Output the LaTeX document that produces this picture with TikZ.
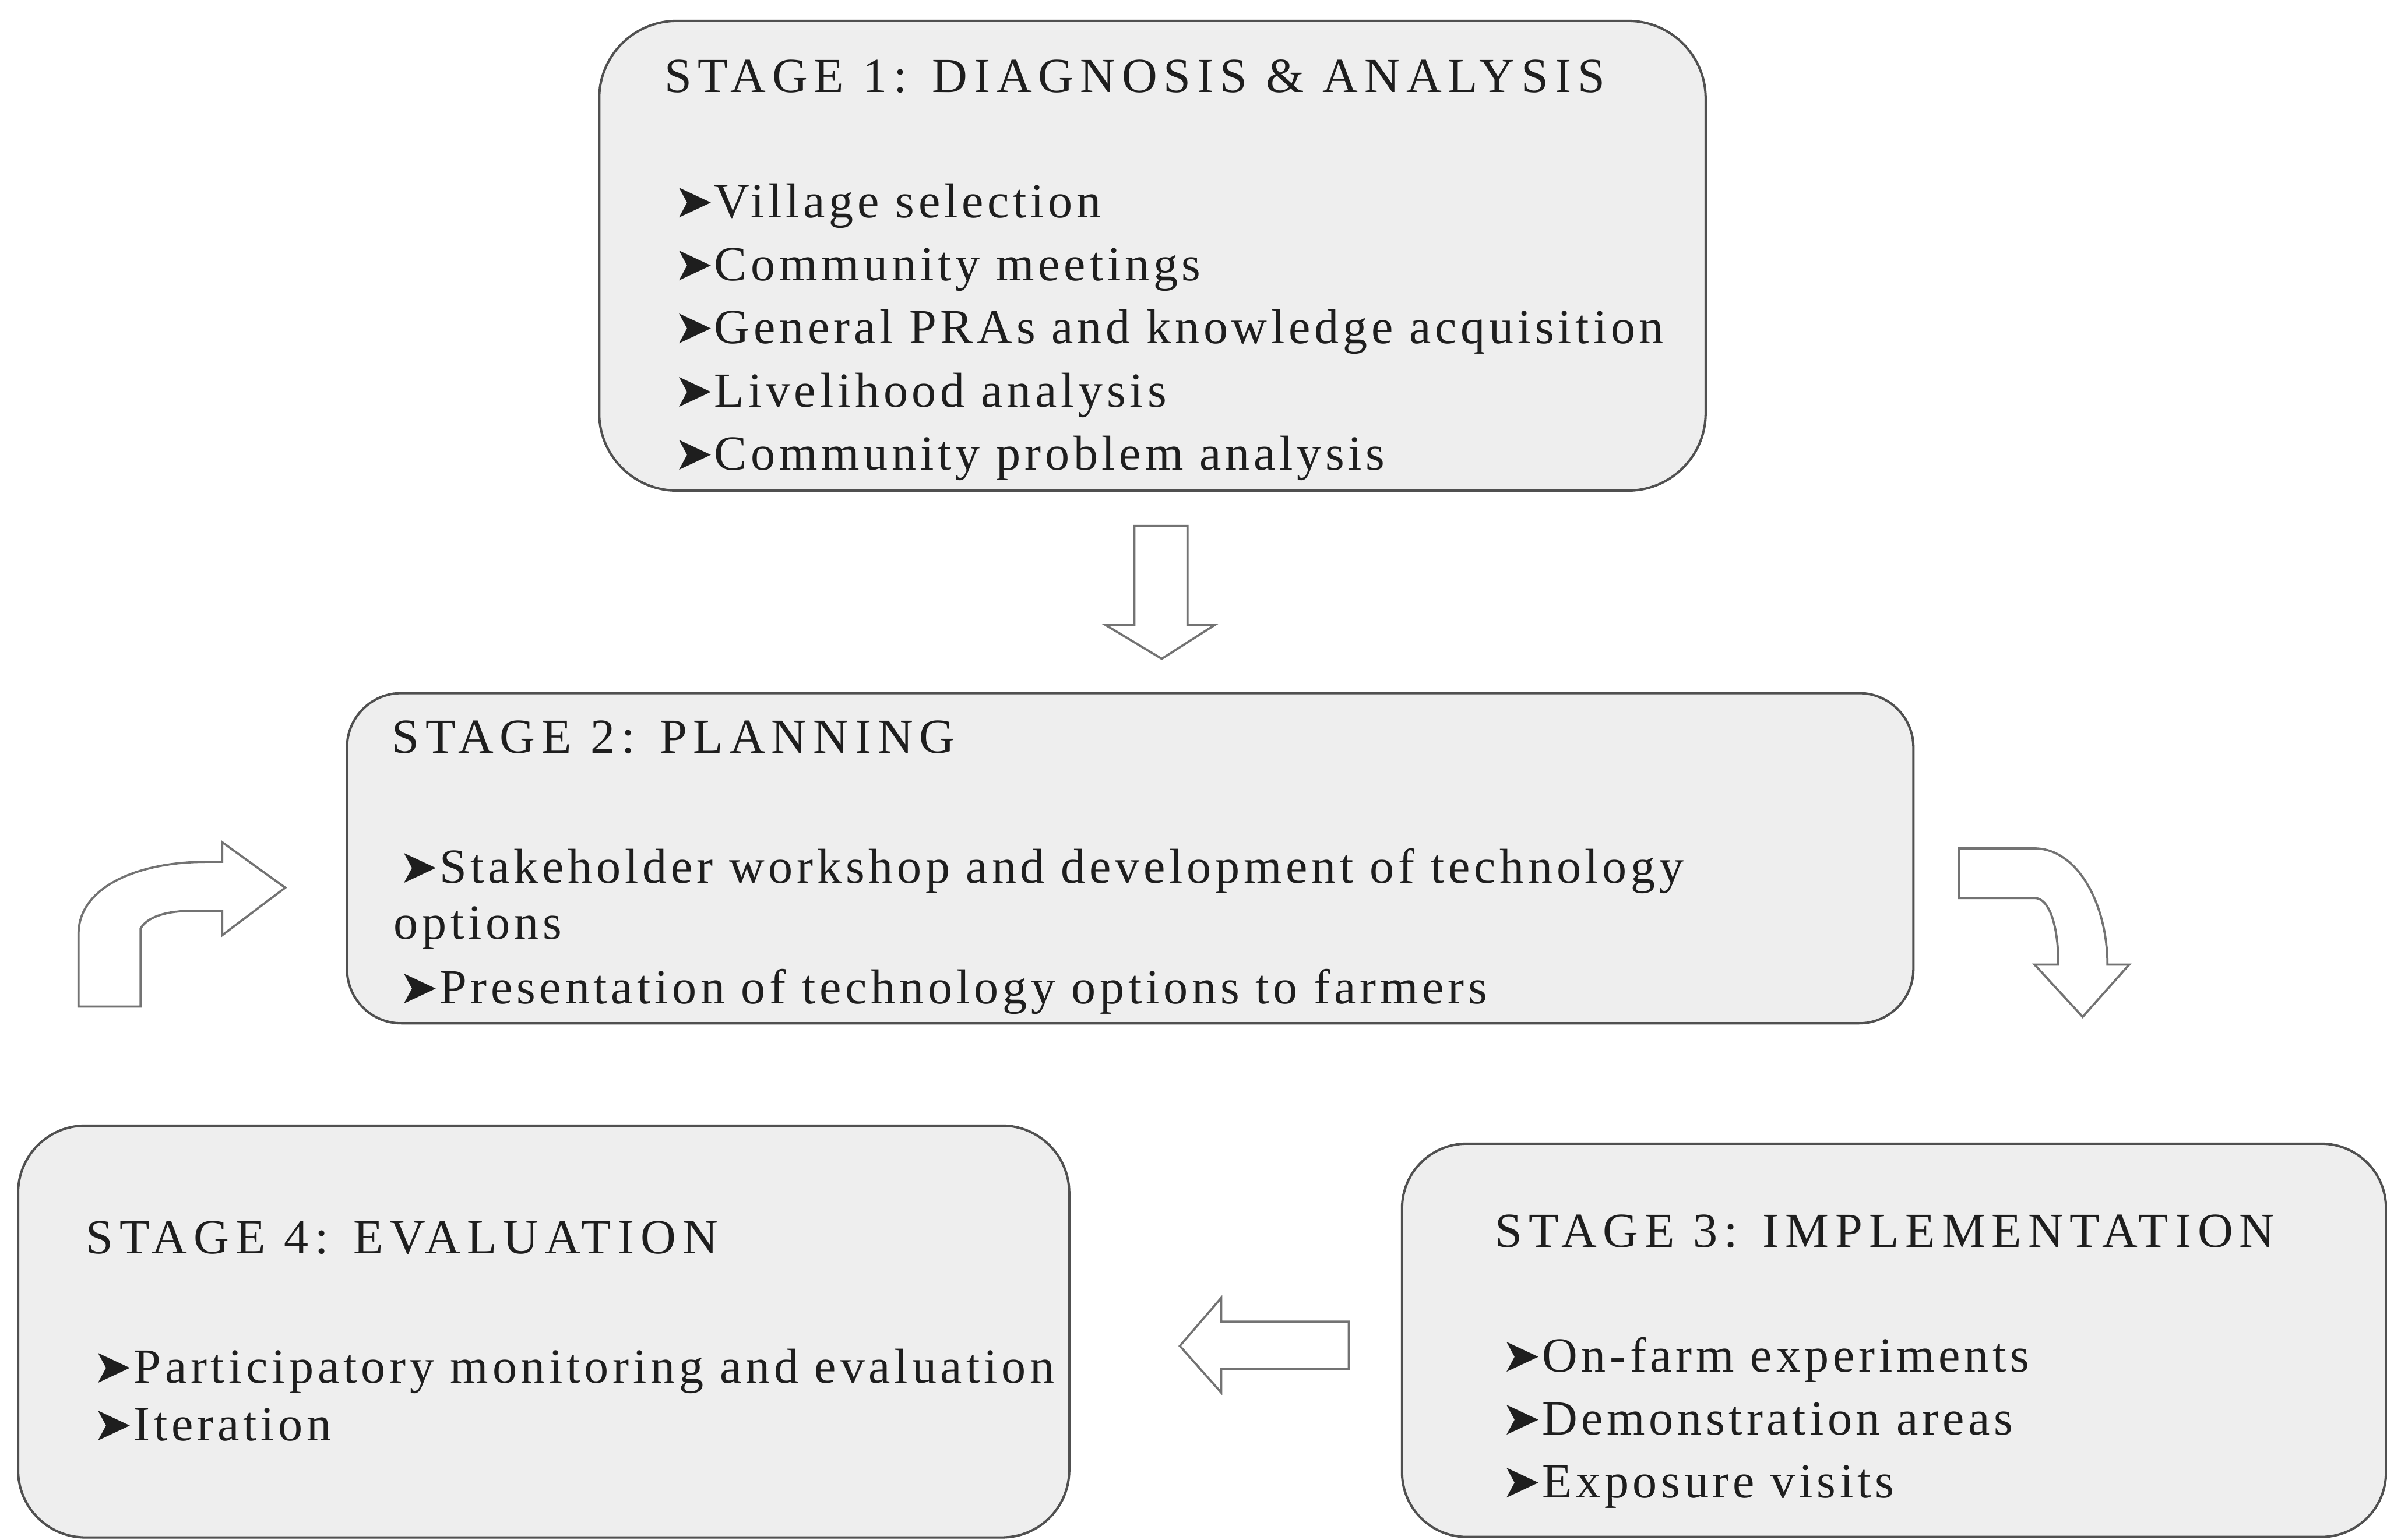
\documentclass[tikz,border=0pt]{standalone}
\usepackage{fontspec}
\setmainfont{Liberation Serif}[LetterSpace=8]
\newfontfamily\headfont{Liberation Serif}[LetterSpace=13]
\newfontfamily\bulletfont{DejaVu Sans}
\definecolor{boxfill}{RGB}{238,238,238}
\definecolor{boxline}{RGB}{80,80,80}
\definecolor{arrowline}{RGB}{115,115,115}
\definecolor{inkgrey}{RGB}{30,30,30}
\newcommand{\arrowbullet}{{\bulletfont\fontsize{26}{30}\selectfont\char"27A4}\hspace{0.02cm}}

\begin{document}
\begin{tikzpicture}[
  stagebox/.style={rectangle, draw=boxline, fill=boxfill, line width=1.3pt, inner sep=0pt},
  head/.style={anchor=base west, inner sep=0pt, text=inkgrey,
               font=\headfont\fontsize{27}{32}\selectfont},
  item/.style={anchor=base west, inner sep=0pt, text=inkgrey,
               font=\fontsize{27}{32}\selectfont},
  blockarrow/.style={draw=arrowline, fill=white, line width=1.2pt, line join=miter},
]
\useasboundingbox (0,0) rectangle (46.19,29.80);

\node[stagebox, minimum width=21.41cm, minimum height=9.09cm, rounded corners=1.5cm] (s1) at (22.30,24.85) {};
\node[stagebox, minimum width=30.31cm, minimum height=6.39cm, rounded corners=1.05cm] (s2) at (21.87,13.19) {};
\node[stagebox, minimum width=19.04cm, minimum height=7.61cm, rounded corners=1.25cm] (s3) at (36.65,3.86) {};
\node[stagebox, minimum width=20.34cm, minimum height=7.97cm, rounded corners=1.3cm] (s4) at (10.52,4.03) {};

% stage 1
\node[head] (s1h) at ([xshift=1.28cm, yshift=-1.41cm]s1.north west) {STAGE 1: DIAGNOSIS \& ANALYSIS};
\foreach \txt [count=\i] in {Village selection, Community meetings, General PRAs and knowledge acquisition,
                             Livelihood analysis, Community problem analysis}
  \node[item] (s1i\i) at ([xshift=1.46cm, yshift={-(3.83+1.22*(\i-1))*1cm}]s1.north west) {\arrowbullet\txt};

% stage 2
\node[head] (s2h) at ([xshift=0.89cm, yshift=-1.18cm]s2.north west) {STAGE 2: PLANNING};
\node[item] (s2i1) at ([xshift=1.02cm, yshift=-3.70cm]s2.north west) {\arrowbullet Stakeholder workshop and development of technology};
\node[item] (s2i1b) at ([xshift=0.92cm, yshift=-4.78cm]s2.north west) {options};
\node[item] (s2i2) at ([xshift=1.02cm, yshift=-6.03cm]s2.north west) {\arrowbullet Presentation of technology options to farmers};

% stage 3
\node[head] (s3h) at ([xshift=1.82cm, yshift=-2.03cm]s3.north west) {STAGE 3: IMPLEMENTATION};
\foreach \txt [count=\i] in {On-farm experiments, Demonstration areas, Exposure visits}
  \node[item] (s3i\i) at ([xshift=1.94cm, yshift={-(4.44+1.22*(\i-1))*1cm}]s3.north west) {\arrowbullet\txt};

% stage 4
\node[head] (s4h) at ([xshift=1.33cm, yshift=-2.50cm]s4.north west) {STAGE 4: EVALUATION};
\foreach \txt [count=\i] in {Participatory monitoring and evaluation, Iteration}
  \node[item] (s4i\i) at ([xshift=1.47cm, yshift={-(5.00+1.12*(\i-1))*1cm}]s4.north west) {\arrowbullet\txt};

% block arrows between the stages
\draw[blockarrow] (21.95,19.62) -- (22.98,19.62) -- (22.98,17.70) -- (23.50,17.70) -- (22.48,17.05)
  -- (21.40,17.70) -- (21.95,17.70) -- cycle;
\draw[blockarrow] (37.90,13.38) -- (39.37,13.38) .. controls (40.20,13.38) and (40.78,12.30) .. (40.78,11.13)
  -- (41.20,11.13) -- (40.30,10.12) -- (39.37,11.13) -- (39.83,11.13)
  .. controls (39.83,11.90) and (39.65,12.42) .. (39.37,12.42) -- (37.90,12.42) -- cycle;
\draw[blockarrow] (26.10,4.22) -- (23.63,4.22) -- (23.63,4.68) -- (22.83,3.75) -- (23.63,2.85)
  -- (23.63,3.30) -- (26.10,3.30) -- cycle;
\draw[blockarrow] (1.52,10.32) -- (1.52,11.73) .. controls (1.52,12.60) and (2.60,13.12) .. (4.00,13.12)
  -- (4.30,13.12) -- (4.30,13.50) -- (5.52,12.62) -- (4.30,11.70) -- (4.30,12.17) -- (3.70,12.17)
  .. controls (3.20,12.17) and (2.85,12.05) .. (2.72,11.83) -- (2.72,10.32) -- cycle;

\end{tikzpicture}
\end{document}
